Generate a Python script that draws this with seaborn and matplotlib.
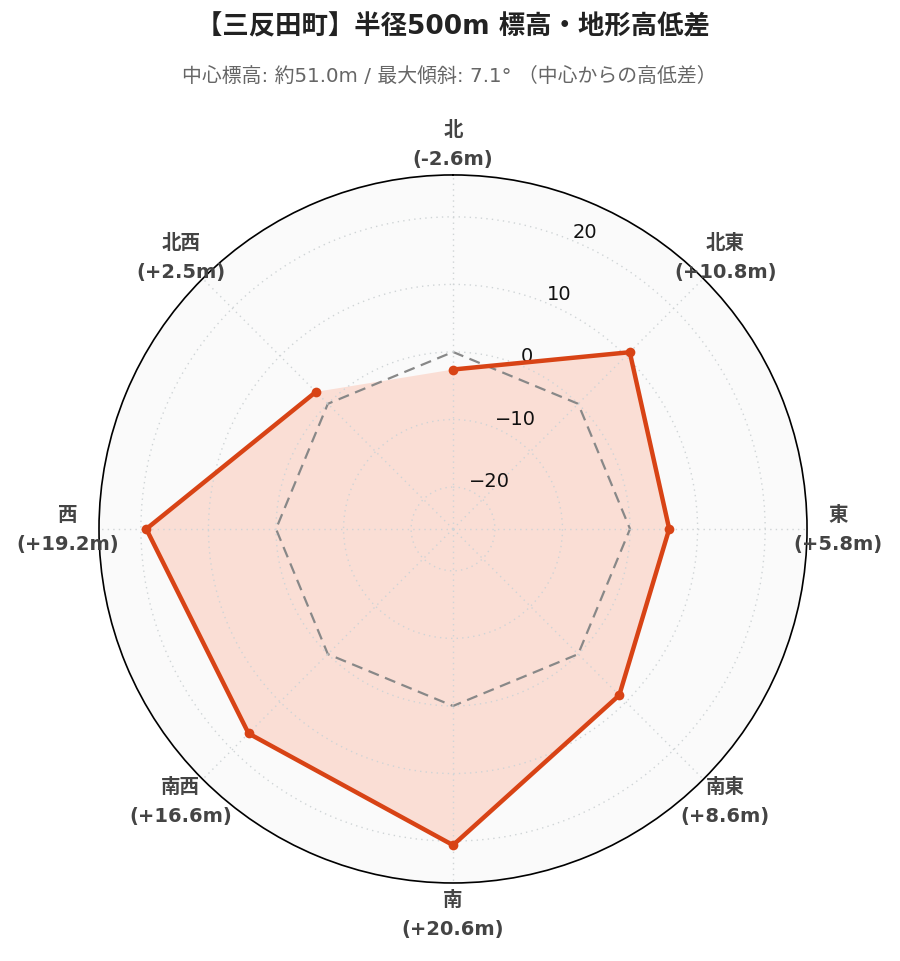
import matplotlib
matplotlib.use("Agg")
import matplotlib.pyplot as plt
import numpy as np
import seaborn as sns

# data
directions = ["北", "北東", "東", "南東", "南", "南西", "西", "北西"]
diffs = [-2.6, 10.8, 5.8, 8.6, 20.6, 16.6, 19.2, 2.5]
r_ticks = [-20, -10, 0, 10, 20]

title = "【三反田町】半径500m 標高・地形高低差"
subtitle = "中心標高: 約51.0m / 最大傾斜: 7.1° （中心からの高低差）"

sns.set_theme(style="white")
plt.rcParams["font.family"] = ["DejaVu Sans", "Noto Sans CJK JP"]
plt.rcParams["axes.unicode_minus"] = True

line_color = "#D84315"
fill_color = "#FF5722"

fig = plt.figure(figsize=(9, 9.62), dpi=100)
ax = fig.add_axes([0.11, 0.0811, 0.7867, 0.736], projection="polar")
ax.set_theta_zero_location("N")
ax.set_theta_direction(-1)
ax.set_facecolor("#FAFAFA")

theta = np.deg2rad(np.arange(len(directions)) * 45.0)
theta_c = np.append(theta, theta[0])
vals_c = np.append(diffs, diffs[0])

rmax = 26.2
ax.set_ylim(-rmax, rmax)

# zero reference polygon
ax.plot(theta_c, np.zeros_like(theta_c), color="#888888", lw=1.6,
        ls=(0, (5, 3)), zorder=1.2)

ax.fill(theta_c, vals_c, color=fill_color, alpha=0.17, zorder=1, lw=0)
sns.lineplot(x=theta_c, y=vals_c, ax=ax, sort=False, color=line_color,
             lw=3.2, marker="o", markersize=7, markeredgewidth=0, zorder=3)

ax.set_axisbelow(False)
ax.grid(True, color="#CFD4D6", ls=(0, (1, 3)), lw=1.0)
for gl in ax.xaxis.get_gridlines() + ax.yaxis.get_gridlines():
    gl.set_zorder(2)

ax.set_xticks(theta)
ax.set_xticklabels([])
ax.set_yticks(r_ticks)
ax.set_rlabel_position(22.5)
ax.tick_params(axis="y", labelsize=14, labelcolor="#111111")
for lab in ax.get_yticklabels():
    lab.set_family("DejaVu Sans")
    lab.set_va("bottom")

ax.spines["polar"].set_color("black")
ax.spines["polar"].set_linewidth(1.2)

for t, name, v in zip(theta, directions, diffs):
    ax.text(t, -rmax + 57.0, f"{name}\n({v:+.1f}m)", ha="center", va="center",
            fontsize=14, fontweight="bold", color="#444444",
            linespacing=1.65, clip_on=False)

fig.text(0.503, 0.971, title, ha="center", va="center", fontsize=19,
         fontweight="bold", color="#222222")
fig.text(0.499, 0.921, subtitle, ha="center", va="center", fontsize=14.3,
         color="#666666")

fig.savefig("out.png", dpi=100)
